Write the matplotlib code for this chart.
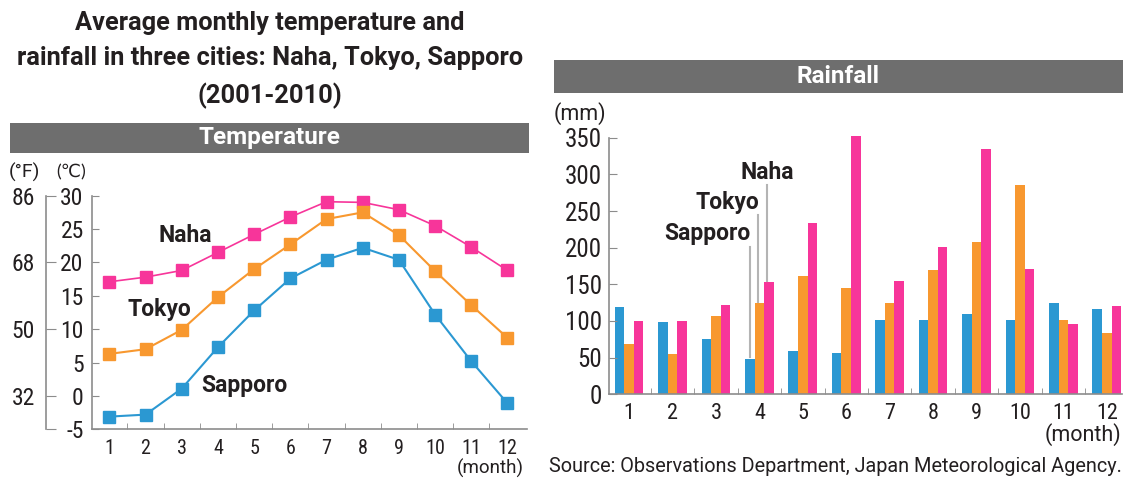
import matplotlib.pyplot as plt
from matplotlib.patches import Rectangle
import numpy as np

plt.rcParams['font.family'] = ['Roboto Condensed', 'Lato', 'DejaVu Sans']
plt.rcParams['axes.unicode_minus'] = False
WIDE = ['Roboto', 'DejaVu Sans']

# Data
months = list(range(1, 13))
naha_temp = [17.1, 17.8, 18.8, 21.5, 24.2, 26.8, 29.1, 29.0, 27.9, 25.5, 22.3, 18.8]
tokyo_temp = [6.3, 7.0, 9.9, 14.8, 19.0, 22.7, 26.5, 27.5, 24.1, 18.7, 13.6, 8.7]
sapporo_temp = [-3.1, -2.8, 1.1, 7.3, 12.8, 17.6, 20.4, 22.2, 20.4, 12.2, 5.2, -1.1]

sapporo_rain = [119, 98, 76, 48, 59, 56, 101, 101, 110, 101, 124, 116]
tokyo_rain = [69, 55, 107, 125, 162, 145, 125, 169, 208, 285, 101, 83]
naha_rain = [100, 100, 122, 153, 234, 352, 155, 201, 334, 171, 96, 120]

c_ticks = [-5, 0, 5, 10, 15, 20, 25, 30]
f_ticks = [23, 32, 50, 68, 86]
f_labels = ["", "32", "50", "68", "86"]
rain_ticks = [0, 50, 100, 150, 200, 250, 300, 350]

PINK = "#f7359a"
ORANGE = "#f8982f"
BLUE = "#2b98d2"
TXT = "#231f20"
AX = "#8c8c8c"
BAR = "#6e6e6e"

W, H = 1125, 479
fig = plt.figure(figsize=(W / 100, H / 100), dpi=100)


def px_axes(x0, y0, x1, y1):
    return fig.add_axes([x0 / W, 1 - y1 / H, (x1 - x0) / W, (y1 - y0) / H])


def header(x0, y0, x1, y1, label):
    fig.add_artist(Rectangle((x0 / W, 1 - y1 / H), (x1 - x0) / W, (y1 - y0) / H,
                             transform=fig.transFigure, color=BAR, lw=0))
    fig.text((x0 + x1) / 2 / W, 1 - (y0 + y1) / 2 / H, label, color="white",
             fontsize=17.5, fontweight="bold", ha="center", va="center", family=WIDE)


# Title
fig.text(270 / W, 1 - 60 / H,
         "Average monthly temperature and\nrainfall in three cities: Naha, Tokyo, Sapporo\n(2001-2010)",
         ha="center", va="center", fontsize=18.3, fontweight="bold", color=TXT,
         linespacing=1.58, family=WIDE)

header(10, 123, 529, 153, "Temperature")
header(554, 60, 1123, 93, "Rainfall")

# Temperature chart
ax = px_axes(92, 195.7, 527, 429.3)
ax.plot(months, naha_temp, color=PINK, lw=1.2, marker="s", ms=8.5, clip_on=False)
ax.plot(months, tokyo_temp, color=ORANGE, lw=1.5, marker="s", ms=8.5, clip_on=False)
ax.plot(months, sapporo_temp, color=BLUE, lw=1.5, marker="s", ms=8.5, clip_on=False)
ax.set_xlim(0.52, 12.54)
ax.set_ylim(-5, 30)
for s in ["top", "right"]:
    ax.spines[s].set_visible(False)
for s in ["left", "bottom"]:
    ax.spines[s].set_color(AX)
    ax.spines[s].set_linewidth(1.2)
ax.set_yticks(c_ticks)
ax.tick_params(axis="y", direction="in", length=5, color=AX, labelsize=17,
               labelcolor=TXT, pad=6)
ax.set_xticks(months)
ax.set_xticks(np.arange(1.5, 12, 1), minor=True)
ax.tick_params(axis="x", which="major", length=0, labelsize=14.5, labelcolor=TXT, pad=7)
ax.tick_params(axis="x", which="minor", direction="in", length=4, color=AX)

fax = ax.secondary_yaxis(-0.106, functions=(lambda c: c * 9 / 5 + 32,
                                            lambda f: (f - 32) * 5 / 9))
fax.set_yticks(f_ticks)
fax.set_yticklabels(f_labels)
fax.spines["left"].set_color(AX)
fax.spines["left"].set_linewidth(1.2)
fax.tick_params(direction="in", length=7, color=AX, labelsize=17, labelcolor=TXT, pad=8)

fig.text(24 / W, 1 - 172 / H, "(°F)", ha="center", va="center", fontsize=14, color=TXT,
         family=WIDE)
fig.text(71 / W, 1 - 172 / H, "(℃)", ha="center", va="center", fontsize=13, color=TXT,
         family=['Lato', 'DejaVu Sans'])
fig.text(524 / W, 1 - 468 / H, "(month)", ha="right", va="center", fontsize=13.5, color=TXT,
         family=WIDE)

ax.text(3.1, 24.0, "Naha", ha="center", va="center", fontsize=16.5, fontweight="bold",
        color=TXT, family=WIDE)
ax.text(2.39, 13.0, "Tokyo", ha="center", va="center", fontsize=16.5, fontweight="bold",
        color=TXT, family=WIDE)
ax.text(4.72, 1.5, "Sapporo", ha="center", va="center", fontsize=16.5, fontweight="bold",
        color=TXT, family=WIDE)

# Rainfall chart
bx = px_axes(608.7, 137.7, 1122, 394.3)
x = np.array(months)
bw = 0.22
bx.bar(x - bw, sapporo_rain, bw, color=BLUE, clip_on=False)
bx.bar(x, tokyo_rain, bw, color=ORANGE, clip_on=False)
bx.bar(x + bw, naha_rain, bw, color=PINK, clip_on=False)
bx.set_xlim(0.53, 12.35)
bx.set_ylim(0, 350)
for s in ["top", "right"]:
    bx.spines[s].set_visible(False)
for s in ["left", "bottom"]:
    bx.spines[s].set_color(AX)
    bx.spines[s].set_linewidth(1.2)
bx.set_yticks(rain_ticks)
bx.tick_params(axis="y", direction="in", length=6, color=AX, labelsize=18,
               labelcolor=TXT, pad=5)
bx.set_xticks(months)
bx.set_xticks(np.arange(1.5, 12, 1), minor=True)
bx.tick_params(axis="x", which="major", length=0, labelsize=16, labelcolor=TXT, pad=6)
bx.tick_params(axis="x", which="minor", direction="in", length=4, color=AX)
fig.text(1121 / W, 1 - 435 / H, "(month)", ha="right", va="center", fontsize=15.5,
         color=TXT, family=WIDE)
fig.text(580 / W, 1 - 114 / H, "(mm)", ha="center", va="center", fontsize=15.5,
         color=TXT, family=WIDE)

# leader lines for the city labels
bx.plot([3.78, 3.78], [51, 201], color="#b4b4b4", lw=1.5)
bx.plot([3.97, 3.97], [126, 245], color="#b4b4b4", lw=1.5)
bx.plot([4.18, 4.18], [154, 285], color="#b4b4b4", lw=1.5)
bx.text(3.80, 220, "Sapporo", ha="right", va="center", fontsize=16.5, fontweight="bold",
        color=TXT, family=WIDE)
bx.text(3.99, 261, "Tokyo", ha="right", va="center", fontsize=16.5, fontweight="bold",
        color=TXT, family=WIDE)
bx.text(4.18, 302, "Naha", ha="center", va="center", fontsize=16.5, fontweight="bold",
        color=TXT, family=WIDE)

fig.text(1122 / W, 1 - 466 / H, "Source: Observations Department, Japan Meteorological Agency.",
         ha="right", va="center", fontsize=14.3, color=TXT, family=WIDE)

fig.savefig("out.png", dpi=100)
